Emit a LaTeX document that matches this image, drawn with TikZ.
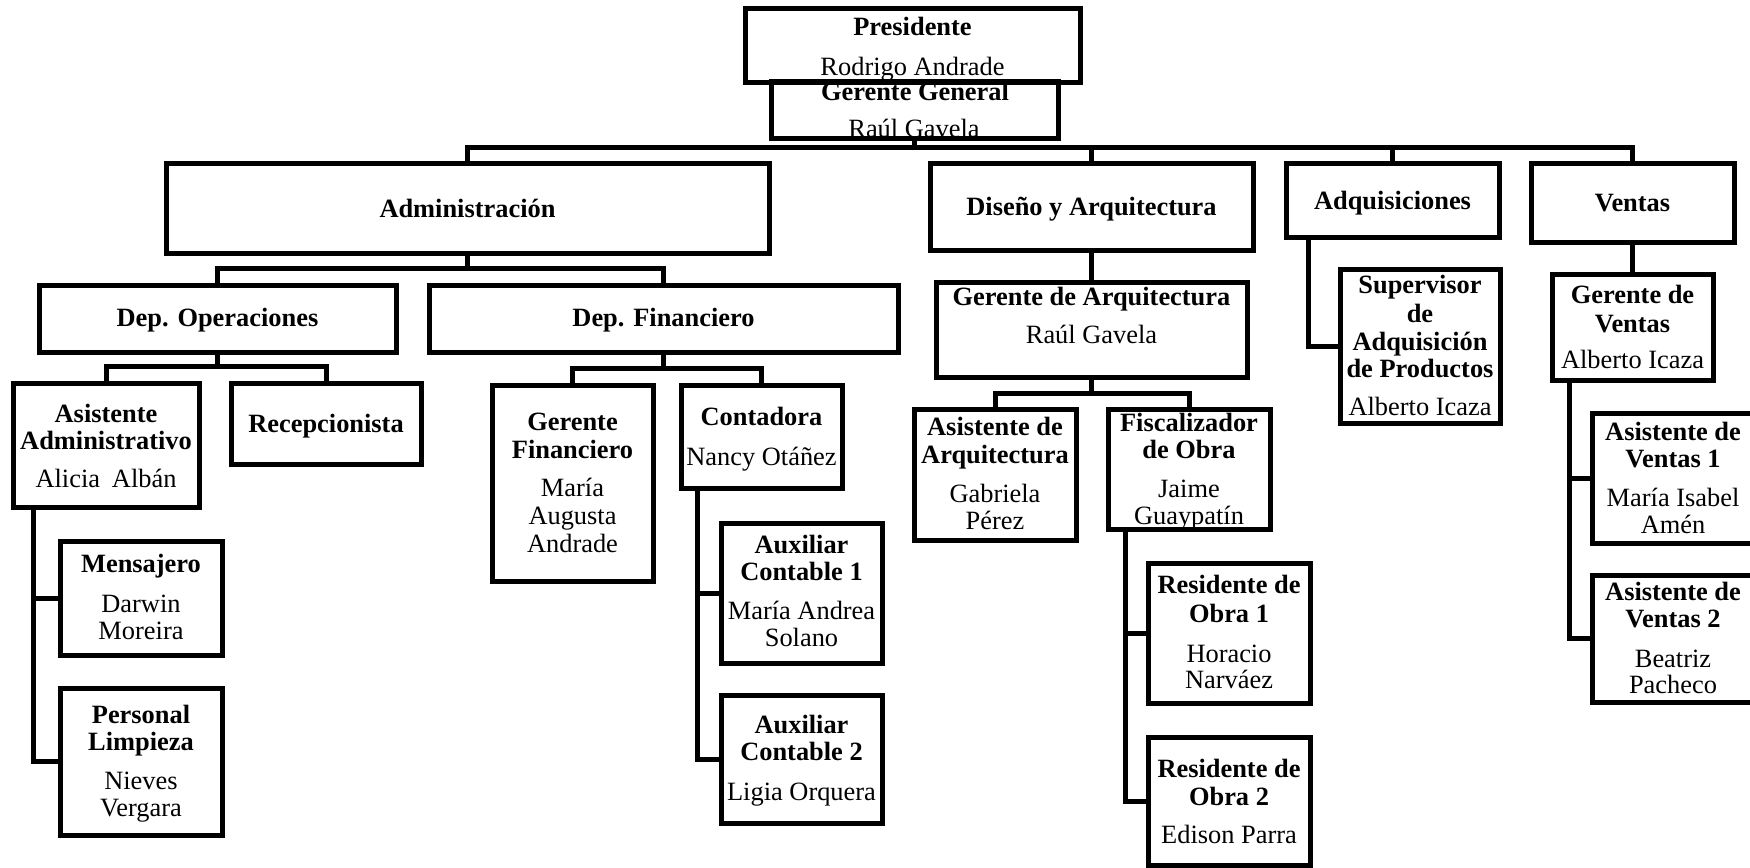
\documentclass[tikz,border=0pt]{standalone}
\usepackage{fontspec}
\setmainfont{Liberation Serif}
\usetikzlibrary{fit}
\begin{document}
\begin{tikzpicture}[x=0.5pt,y=-0.5pt,
  box/.style={draw, line width=2.5pt, rectangle, inner sep=0pt, outer sep=0pt},
  ln/.style={line width=2.5pt},
  tn/.style={anchor=base, inner sep=0pt, font=\fontsize{13.2}{14}\selectfont},
  tb/.style={tn, font=\fontsize{13.2}{14}\selectfont\bfseries}]
\useasboundingbox (0,0) rectangle (1750,867);
\clip (0,0) rectangle (1750,867);
% boxes
\node[box, fit={(745,8)(1080,82)}] (pres) {};
\node[box, fit={(771,81)(1058,138)}] (gg) {};
\node[box, fit={(166,163)(769,253)}] (adm) {};
\node[box, fit={(930,163)(1253,250)}] (dis) {};
\node[box, fit={(1286,163)(1499,237)}] (adq) {};
\node[box, fit={(1531,163)(1734,242)}] (ven) {};
\node[box, fit={(39,285)(396,352)}] (dop) {};
\node[box, fit={(429,285)(898,352)}] (dfi) {};
\node[box, fit={(13,383)(199,507)}] (aa) {};
\node[box, fit={(231,383)(421,464)}] (rec) {};
\node[box, fit={(60,541)(222,655)}] (men) {};
\node[box, fit={(60,688)(222,835)}] (pl) {};
\node[box, fit={(492,385)(653,581)}] (gf) {};
\node[box, fit={(681,385)(842,488)}] (con) {};
\node[box, fit={(721,523)(882,663)}] (ac1) {};
\node[box, fit={(721,695)(882,823)}] (ac2) {};
\node[box, fit={(936,282)(1247,377)}] (ga) {};
\node[box, fit={(914,409)(1076,540)}] (asa) {};
\node[box, fit={(1108,409)(1270,529)}] (fo) {};
\node[box, fit={(1148,563)(1310,703)}] (r1) {};
\node[box, fit={(1148,737)(1310,865)}] (r2) {};
\node[box, fit={(1340,269)(1500,423)}] (sup) {};
\node[box, fit={(1552,274)(1713,380)}] (gv) {};
\node[box, fit={(1592,413)(1754,543)}] (av1) {};
\node[box, fit={(1592,575)(1754,702)}] (av2) {};
% bus levels and spines
\coordinate (bus0) at (0,147);
\coordinate (bus1) at (0,268);
\coordinate (bus2) at (0,366);
\coordinate (bus3) at (0,368);
\coordinate (bus4) at (0,393);
\coordinate (sAA) at (33,0);
\coordinate (sCO) at (697,0);
\coordinate (sFO) at (1125,0);
\coordinate (sGV) at (1569,0);
\coordinate (sAQ) at (1308,0);
% connectors
\draw[ln] (adm.north) |- (bus0 -| ven.north) -- (ven.north);
\draw[ln] (gg.south) -- (gg.south |- bus0);
\draw[ln] (dis.north) -- (dis.north |- bus0);
\draw[ln] (adq.north) -- (adq.north |- bus0);
\draw[ln] (adm.south) -- (adm.south |- bus1);
\draw[ln] (dop.north) |- (bus1 -| dfi.north) -- (dfi.north);
\draw[ln] (dop.south) -- (dop.south |- bus2);
\draw[ln] (aa.north) |- (bus2 -| rec.north) -- (rec.north);
\draw[ln] (dfi.south) -- (dfi.south |- bus3);
\draw[ln] (gf.north) |- (bus3 -| con.north) -- (con.north);
\draw[ln] (dis.south) -- (ga.north);
\draw[ln] (ga.south) -- (ga.south |- bus4);
\draw[ln] (asa.north) |- (bus4 -| fo.north) -- (fo.north);
\draw[ln] (ven.south) -- (gv.north);
\draw[ln] (aa.south -| sAA) |- (pl.west);
\draw[ln] (men.west -| sAA) -- (men.west);
\draw[ln] (con.south -| sCO) |- (ac2.west);
\draw[ln] (ac1.west -| sCO) -- (ac1.west);
\draw[ln] (fo.south -| sFO) |- (r2.west);
\draw[ln] (r1.west -| sFO) -- (r1.west);
\draw[ln] (gv.south -| sGV) |- (av2.west);
\draw[ln] (av1.west -| sGV) -- (av1.west);
\draw[ln] (adq.south -| sAQ) |- (sup.west);
% texts
\node[tb] (t1) at (912.5,35) {Presidente};
\node[tn] (t2) at (912.5,75) {Rodrigo Andrade};
\node[tb] (t3) at (915,100) {Gerente General};
\node[tn] (t4) at (914,137) {Raúl Gavela};
\node[tb] (t5) at (467.5,217) {Administración};
\node[tb] (t6) at (1091.5,215) {Diseño y Arquitectura};
\node[tb] (t7) at (1392.5,209) {Adquisiciones};
\node[tb] (t8) at (1632.5,211) {Ventas};
\node[tb] (t9) at (217.5,326) {Dep. Operaciones};
\node[tb] (t10) at (663.5,326) {Dep. Financiero};
\node[tb] (t11) at (106,422) {Asistente};
\node[tb] (t12) at (106,449) {Administrativo};
\node[tn] (t13) at (106,487) {Alicia\hspace{0.45em}Albán};
\node[tb] (t14) at (326,432) {Recepcionista};
\node[tb] (t15) at (141,572) {Mensajero};
\node[tn] (t16) at (141,612) {Darwin};
\node[tn] (t17) at (141,639) {Moreira};
\node[tb] (t18) at (141,723) {Personal};
\node[tb] (t19) at (141,750) {Limpieza};
\node[tn] (t20) at (141,789) {Nieves};
\node[tn] (t21) at (141,816) {Vergara};
\node[tb] (t22) at (572.5,430) {Gerente};
\node[tb] (t23) at (572.5,458) {Financiero};
\node[tn] (t24) at (572.5,496) {María};
\node[tn] (t25) at (572.5,524) {Augusta};
\node[tn] (t26) at (572.5,552) {Andrade};
\node[tb] (t27) at (761.5,425) {Contadora};
\node[tn] (t28) at (761.5,465) {Nancy Otáñez};
\node[tb] (t29) at (801.5,553) {Auxiliar};
\node[tb] (t30) at (801.5,580) {Contable 1};
\node[tn] (t31) at (801.5,619) {María Andrea};
\node[tn] (t32) at (801.5,646) {Solano};
\node[tb] (t33) at (801.5,733) {Auxiliar};
\node[tb] (t34) at (801.5,760) {Contable 2};
\node[tn] (t35) at (801.5,800) {Ligia Orquera};
\node[tb] (t36) at (1091.5,305) {Gerente de Arquitectura};
\node[tn] (t37) at (1091.5,343) {Raúl Gavela};
\node[tb] (t38) at (995,435) {Asistente de};
\node[tb] (t39) at (995,463) {Arquitectura};
\node[tn] (t40) at (995,502) {Gabriela};
\node[tn] (t41) at (995,529) {Pérez};
\node[tb] (t42) at (1189,431) {Fiscalizador};
\node[tb] (t43) at (1189,458) {de Obra};
\node[tn] (t44) at (1189,497) {Jaime};
\node[tn] (t45) at (1189,524) {Guaypatín};
\node[tb] (t46) at (1229,593) {Residente de};
\node[tb] (t47) at (1229,622) {Obra 1};
\node[tn] (t48) at (1229,662) {Horacio};
\node[tn] (t49) at (1229,688) {Narváez};
\node[tb] (t50) at (1229,777) {Residente de};
\node[tb] (t51) at (1229,805) {Obra 2};
\node[tn] (t52) at (1229,843) {Edison Parra};
\node[tb] (t53) at (1420,293) {Supervisor};
\node[tb] (t54) at (1420,322) {de};
\node[tb] (t55) at (1420,350) {Adquisición};
\node[tb] (t56) at (1420,377) {de Productos};
\node[tn] (t57) at (1420,415) {Alberto Icaza};
\node[tb] (t58) at (1632.5,303) {Gerente de};
\node[tb] (t59) at (1632.5,332) {Ventas};
\node[tn] (t60) at (1632.5,368) {Alberto Icaza};
\node[tb] (t61) at (1673,440) {Asistente de};
\node[tb] (t62) at (1673,467) {Ventas 1};
\node[tn] (t63) at (1673,506) {María Isabel};
\node[tn] (t64) at (1673,533) {Amén};
\node[tb] (t65) at (1673,600) {Asistente de};
\node[tb] (t66) at (1673,627) {Ventas 2};
\node[tn] (t67) at (1673,667) {Beatriz};
\node[tn] (t68) at (1673,693) {Pacheco};
\end{tikzpicture}
\end{document}
